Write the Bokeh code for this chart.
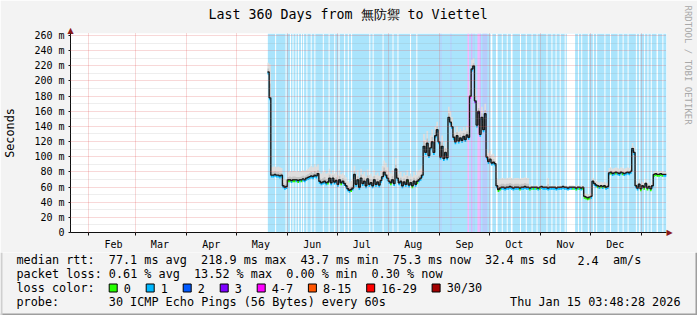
import re
from bokeh.plotting import figure
from bokeh.models import Range1d, FixedTicker, ColumnDataSource, LinearAxis, Title, Label
from bokeh.transform import dodge
from bokeh.embed import file_html
from bokeh.resources import INLINE

# ---------------- data (x = days since 2025-01-21, 360-day window) ----------------
FIRST_DAY = 119          # first day with a median value
DATA_START = 119.2       # first sample (loss background starts here)
END_DAY = 360

median_ms = [
    210, 176,
    74, 74, 75, 74, 74, 73, 74,
    60, 58, 59,
    68, 68, 67, 68, 68, 68, 67, 68, 68, 69, 68,
    70, 71, 72, 73, 72, 74, 73, 76,
    66, 64, 65, 66, 64, 65, 70, 64,
    70, 65, 67, 62, 68, 64, 66, 63, 60,
    56, 54, 55, 57,
    75, 62, 68, 58, 70, 63, 66, 60, 69, 62,
    64, 60, 68, 62, 65, 61, 67, 72, 78,
    74, 70, 66,
    64, 68, 63, 82, 70, 64,
    66, 60, 65, 62, 68, 61, 64, 60, 66, 62, 66, 68, 70, 74,
    112, 104, 116, 100, 110, 118, 104, 126, 134, 118, 98, 112, 96, 104, 97,
    150, 144, 138,
    124, 118, 126, 119, 123, 120, 125, 121, 127, 124,
    178, 214, 218, 172,
    140, 158, 128, 150, 134, 155,
    98, 92, 95, 90, 91, 89,
    60,
    55, 57, 58, 58, 57, 58, 58, 59, 58, 57,
    58, 58, 58, 57, 58, 58, 59, 58, 58, 57,
    58, 58, 58, 58, 57, 58, 59, 58, 58, 58,
    57, 58, 58, 58, 58, 57, 58, 58, 58, 59,
    58, 58, 57, 58, 58, 58, 58, 57, 58, 58,
    57, 58,
    46, 45, 44, 45, 46,
    66, 63, 61, 60, 59, 60, 59, 60, 58, 59,
    77, 78, 76, 77, 78, 77, 76, 78, 77, 76, 77, 78, 77, 79,
    109, 104,
    60, 57, 62, 56, 60, 58, 63, 57, 59, 56, 60,
    75, 76, 75, 75, 76, 75, 75, 75,
]

smoke_top_ms = [
    224, 222,
    86, 87, 87, 86, 87, 86, 85,
    72, 70, 70,
    80, 81, 80, 81, 81, 80, 81, 80, 81, 82, 81,
    82, 84, 86, 88, 86, 90, 87, 90,
    80, 78, 80, 82, 78, 79, 84, 78,
    82, 78, 80, 76, 82, 77, 79, 76, 73,
    68, 66, 68, 70,
    88, 76, 82, 72, 84, 77, 80, 74, 83, 76,
    78, 74, 82, 76, 79, 75, 81, 88, 95,
    92, 86, 80,
    78, 82, 77, 98, 84, 78,
    80, 74, 79, 76, 82, 75, 78, 74, 80, 76, 80, 82, 84, 88,
    130, 122, 134, 118, 128, 136, 122, 140, 146, 134, 116, 128, 112, 120, 112,
    166, 160, 152,
    138, 132, 140, 133, 137, 134, 139, 135, 141, 138,
    200, 228, 230, 190,
    158, 172, 144, 166, 150, 170,
    110, 105, 108, 103, 104, 100,
    72,
    70, 71, 72, 72, 71, 72, 72, 73, 72, 71,
    72, 72, 72, 71, 72, 72, 73, 72, 72, 63,
    62, 61, 62, 62, 61, 62, 62, 62, 61, 62,
    72, 62, 61, 62, 62, 61, 62, 62, 62, 61,
    62, 62, 61, 62, 62, 62, 61, 62, 62, 61,
    62, 62,
    52, 51, 50, 51, 52,
    72, 70, 68, 67, 66, 67, 66, 67, 65, 66,
    85, 86, 84, 85, 86, 85, 84, 86, 85, 84, 85, 86, 85, 88,
    118, 113,
    68, 64, 70, 63, 67, 65, 71, 64, 66, 63, 67,
    80, 81, 80, 80, 81, 80, 80, 80,
]

# loss category of the median line per day (default: 1 lost ping)
green_days = [131, 132, 134, 135, 137, 139, 155, 163, 169, 193, 203, 206, 209,
              258, 259, 271, 277, 279, 281, 283, 303, 305, 307, 309, 310, 311, 312,
              313, 318, 320, 322, 326, 329, 333, 344, 346, 348, 350, 352, 353, 354,
              355, 356, 357]
purple_days = [244, 246]
magenta_days = [241]

# loss background: periods without loss (white), and higher-loss stripes
nolost_start = [123.6, 129.9, 132.6, 134.1, 135.9, 137.5, 139.2, 140.5, 142.5, 145.1,
                147.3, 152.4, 155.9, 159.3, 161.9, 165.3, 167.5, 169.5, 180.5, 182.5,
                188.5, 194.5, 197.5, 205.1, 208.9, 253.8, 257.0, 260.5, 263.5, 266.0,
                271.5, 275.0, 278.5, 281.5, 287.5, 290.5, 293.0, 295.5, 298.5, 299.8,
                306.5, 308.5, 312.5, 315.5, 317.5, 322.5, 325.9, 330.5, 333.5, 336.5,
                341.5, 343.5, 346.5, 348.5, 350.5, 354.0, 357.5]
nolost_end = [124.2, 130.5, 133.2, 134.7, 136.5, 138.1, 139.8, 141.1, 143.1, 145.7,
              147.9, 153.0, 156.5, 159.9, 162.5, 165.9, 168.1, 170.1, 181.1, 183.1,
              189.1, 195.1, 198.1, 205.7, 209.5, 254.8, 258.0, 261.1, 264.1, 267.0,
              272.1, 275.6, 279.1, 282.1, 288.1, 291.1, 293.6, 296.1, 299.1, 304.8,
              307.1, 309.1, 313.1, 316.1, 318.1, 323.1, 326.5, 331.1, 334.1, 337.1,
              342.1, 344.1, 347.1, 349.1, 351.1, 354.8, 358.1]
loss2_start = [223.5, 229.5, 243.5, 248.8]
loss2_end = [224.1, 230.1, 244.1, 251.8]
loss3_start = [241.8, 247.3]
loss3_end = [242.8, 247.9]
loss4_start = [239.8, 245.8]
loss4_end = [240.8, 247.2]

month_starts = [11, 39, 70, 100, 131, 161, 192, 223, 253, 284, 314, 345]
month_names = ["Feb", "Mar", "Apr", "May", "Jun", "Jul", "Aug", "Sep", "Oct", "Nov", "Dec"]
y_major = list(range(0, 261, 20))
y_minor = list(range(10, 261, 20))

title_text = "Last 360 Days from 無防禦 to Viettel"
credit_text = "RRDTOOL / TOBI OETIKER"
legend_lines = [
    "median rtt:  77.1 ms avg  218.9 ms max  43.7 ms min  75.3 ms now  32.4 ms sd   2.4  am/s",
    "packet loss: 0.61 % avg  13.52 % max  0.00 % min  0.30 % now",
    "loss color:",
    "probe:       30 ICMP Echo Pings (56 Bytes) every 60s",
]
loss_labels = ["0", "1", "2", "3", "4-7", "8-15", "16-29", "30/30"]
loss_colors = ["#26ff00", "#00b8ff", "#0059ff", "#7e00ff", "#ff00ff", "#ff5500", "#ff0000", "#a10000"]
stamp_text = "Thu Jan 15 03:48:28 2026"

# ---------------- styles ----------------
MONO = "DejaVu Sans Mono"
BG = "#f3f3f3"
BG_LOSS1 = "#aae4fc"
BG_LOSS2 = "#b8ccfb"
BG_LOSS3 = "#d4b8fb"
BG_LOSS4 = "#f6b6fb"
W = 697
H_MAIN = 252
H_LEG = 315 - H_MAIN
YTOP = 262.6

# ================= main graph =================
p = figure(width=W, height=H_MAIN, output_backend="svg", toolbar_location=None,
           x_range=Range1d(0, END_DAY), y_range=Range1d(0, YTOP),
           min_border_left=67, min_border_right=30, min_border_top=33, min_border_bottom=H_MAIN - 233,
           background_fill_color="white", border_fill_color=BG, outline_line_color=None,
           title=title_text)

# loss background
p.quad(left=[DATA_START], right=[END_DAY], bottom=[0], top=[YTOP], color=BG_LOSS1, line_color=None)
p.quad(left=nolost_start, right=nolost_end, bottom=0, top=YTOP, color="white", line_color=None)
p.quad(left=loss2_start, right=loss2_end, bottom=0, top=YTOP, color=BG_LOSS2, line_color=None)
p.quad(left=loss3_start, right=loss3_end, bottom=0, top=YTOP, color=BG_LOSS3, line_color=None)
p.quad(left=loss4_start, right=loss4_end, bottom=0, top=YTOP, color=BG_LOSS4, line_color=None)

days = [FIRST_DAY + i for i in range(len(median_ms))]
xs = days + [END_DAY]
med = median_ms + [median_ms[-1]]
top = smoke_top_ms + [smoke_top_ms[-1]]
mid = [m + 0.45 * (t - m) for m, t in zip(med, top)]
src = ColumnDataSource(dict(x=xs, med=med, top=top, mid=mid))

# smoke
p.varea_step(x="x", y1="med", y2="top", step_mode="after", source=src, fill_color="#dedede")
p.varea_step(x="x", y1="med", y2="mid", step_mode="after", source=src, fill_color="#c4c4c4")


def color_for(d):
    if d in green_days:
        return loss_colors[0]
    if d in magenta_days:
        return loss_colors[4]
    if d in purple_days:
        return loss_colors[3]
    return loss_colors[1]


seg = ColumnDataSource(dict(x0=days, x1=[d + 1 for d in days], y=median_ms,
                            c=[color_for(d) for d in days]))
p.segment(x0="x0", x1="x1", y0="y", y1="y", color="c", line_width=2.4, source=seg)
p.step(x="x", y=dodge("med", 1.7), mode="after", source=src, line_color="#1a1a1a", line_width=1.4)

# axes
p.xaxis.ticker = FixedTicker(ticks=[s + 15 for s in month_starts[:len(month_names)]],
                             minor_ticks=month_starts)
p.xaxis.major_label_overrides = {s + 15: n for s, n in zip(month_starts, month_names)}
p.xaxis.major_tick_out = 0
p.xaxis.major_tick_in = 0
p.xaxis.minor_tick_out = 3
p.xaxis.minor_tick_in = 0
p.xaxis.minor_tick_line_color = "#101010"
p.xaxis.major_label_standoff = 3
p.yaxis.ticker = FixedTicker(ticks=y_major, minor_ticks=y_minor)
p.yaxis.major_label_overrides = {v: ("0" if v == 0 else f"{v} m") for v in y_major}
p.yaxis.major_tick_out = 2
p.yaxis.major_tick_in = 0
p.yaxis.minor_tick_out = 0
p.yaxis.minor_tick_in = 0
p.yaxis.major_label_standoff = 4
p.yaxis.axis_label = "Seconds"
p.yaxis.axis_label_text_font = MONO
p.yaxis.axis_label_text_font_size = "11.8px"
p.yaxis.axis_label_text_font_style = "normal"
p.yaxis.axis_label_text_color = "black"
p.yaxis.axis_label_standoff = 14
for ax in (p.xaxis, p.yaxis):
    ax.axis_line_color = "#101010"
    ax.major_tick_line_color = "#101010"
    ax.major_label_text_font = MONO
    ax.major_label_text_font_size = "10px"
    ax.major_label_text_color = "black"

p.xgrid.ticker = FixedTicker(ticks=month_starts)
p.ygrid.ticker = FixedTicker(ticks=y_major, minor_ticks=y_minor)
for g in (p.xgrid, p.ygrid):
    g.grid_line_color = "#de5050"
    g.grid_line_alpha = 0.45
    g.grid_line_dash = "1 1"
    g.level = "overlay"
p.ygrid.minor_grid_line_color = "#8f8f8f"
p.ygrid.minor_grid_line_alpha = 0.3
p.ygrid.minor_grid_line_dash = "1 1"

# axis arrows (as single tick labels on extra axes)
arrow_kw = dict(axis_line_color=None, major_tick_line_color=None, minor_tick_line_color=None,
                major_tick_out=0, major_tick_in=0, minor_tick_out=0, minor_tick_in=0,
                major_label_text_color="#8b1a1a", major_label_text_font="DejaVu Sans",
                major_label_text_font_size="8px")
p.add_layout(LinearAxis(ticker=FixedTicker(ticks=[0]), major_label_overrides={0: "▲"},
                        major_label_standoff=-1, **arrow_kw), "above")
p.add_layout(LinearAxis(ticker=FixedTicker(ticks=[0]), major_label_overrides={0: "▶"},
                        major_label_standoff=0, **arrow_kw), "right")

# titles
p.title.text_font = MONO
p.title.text_font_size = "13.3px"
p.title.text_font_style = "normal"
p.title.text_color = "black"
p.title.align = "left"
p.title.offset = 138
p.title.standoff = 1
p.add_layout(Title(text=credit_text, align="left", vertical_align="top", offset=-28, standoff=10,
                   text_font=MONO, text_font_size="9px", text_font_style="normal",
                   text_color="#a8a8a8"), "right")

# ================= legend block (separate root, full-width frame) =================
q = figure(width=W, height=H_LEG, output_backend="svg", toolbar_location=None,
           x_range=Range1d(0, W), y_range=Range1d(H_LEG, 0),
           min_border=0, min_border_left=0, min_border_right=0, min_border_top=0, min_border_bottom=0,
           x_axis_location=None, y_axis_location=None,
           background_fill_color=BG, border_fill_color=BG, outline_line_color=None)
q.grid.visible = False

CW = 7.1
LX = 16
ROW0 = 259.7 - H_MAIN
ROWH = 13.9
FS = "11.8px"


def text_at(x, y, s, align="left"):
    q.add_layout(Label(x=x, y=y, text=s, text_font=MONO, text_font_size=FS, text_baseline="middle",
                       text_align=align, text_color="black"))


for i, line in enumerate(legend_lines):
    for m in re.finditer(r"\S+(?: \S+)*", line):
        text_at(LX + m.start() * CW, ROW0 + i * ROWH, m.group())
text_at(680, ROW0 + 3 * ROWH, stamp_text, align="right")

sq_x = []
sx = 108.7
row2 = ROW0 + 2 * ROWH
for name in loss_labels:
    sq_x.append(sx)
    text_at(sx + 14.6, row2, name)
    sx += 29.9 + CW * len(name)
q.quad(left=sq_x, right=[v + 8 for v in sq_x], top=row2 - 4, bottom=row2 + 4,
       fill_color=loss_colors, line_color="black", line_width=1)

# frame shading of the legend block
q.quad(left=[0, 0, W - 2], right=[W, 2, W], top=[H_LEG - 2, 0, 0], bottom=[H_LEG, H_LEG, H_LEG],
       color=["#9e9e9e", "#cfcfcf", "#9e9e9e"], line_color=None)

open("out.html", "w").write(file_html([p, q], INLINE))
